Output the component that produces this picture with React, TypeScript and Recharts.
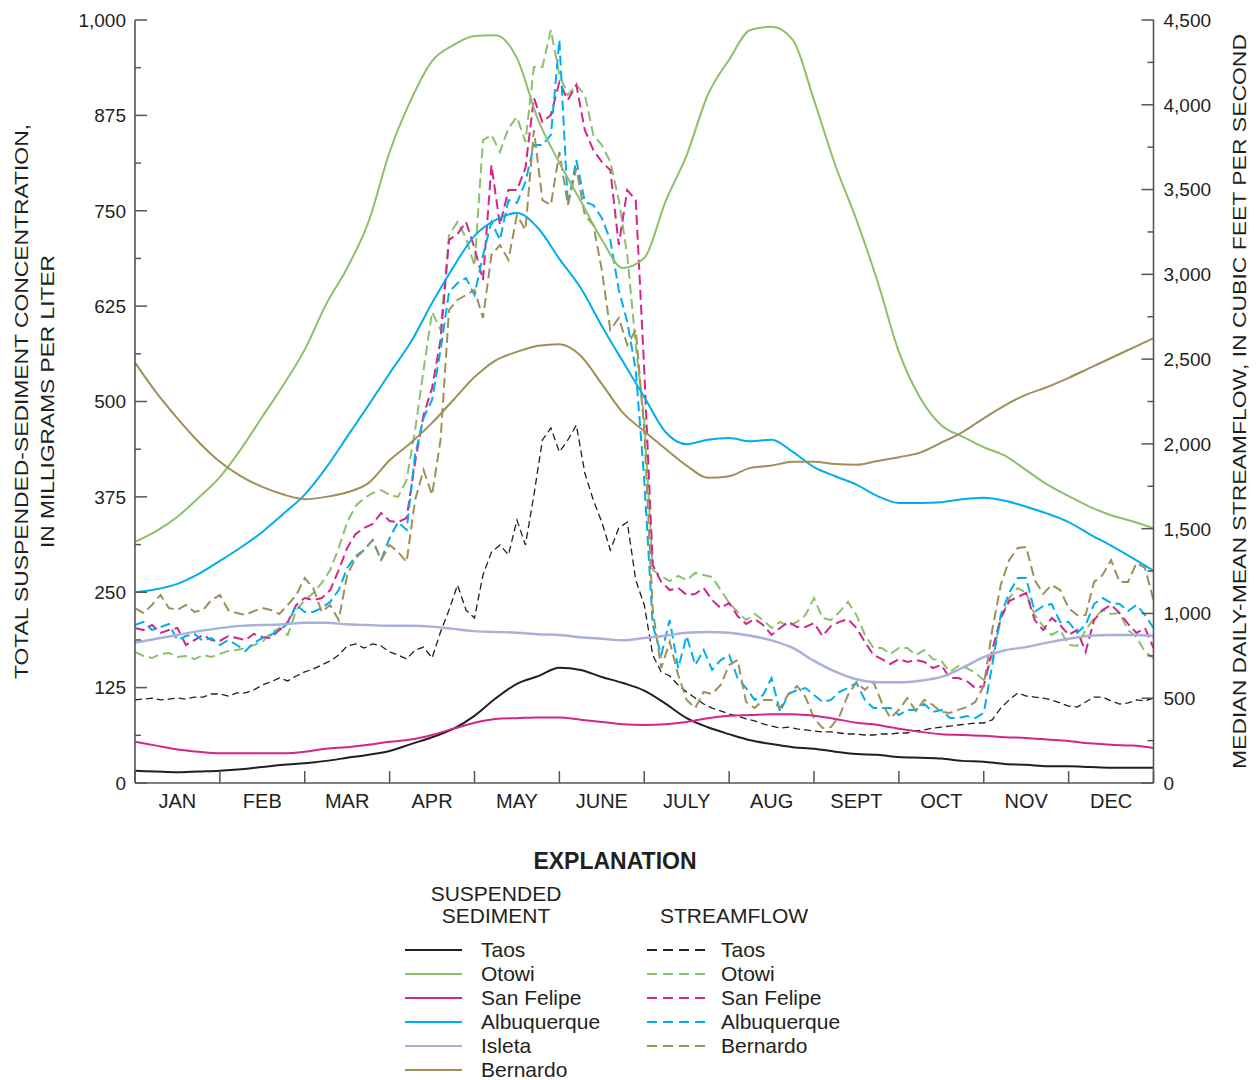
import { LineChart, Line, XAxis, YAxis } from "recharts";

// Median daily suspended sediment (mg/L) and median daily-mean streamflow (cfs),
// Rio Grande stations, by month of the year.

const MONTHS = ["JAN", "FEB", "MAR", "APR", "MAY", "JUNE", "JULY", "AUG", "SEPT", "OCT", "NOV", "DEC"];

// x is months since Jan 1; sediment curves every quarter month, flows every tenth
const SED_X = Array.from({ length: 49 }, (_, i) => i / 4);
const FLOW_X = Array.from({ length: 121 }, (_, i) => i / 10);

const SED_TAOS = [16, 15, 14, 15, 16, 18, 21, 24, 26, 29, 33, 37, 42, 51, 60, 71, 88, 111, 130, 140, 151, 148, 139, 131, 121, 104, 85, 73, 64, 56, 51, 47, 45, 41, 38, 37, 34, 33, 32, 29, 28, 25, 24, 22, 22, 21, 20, 20, 20];
const SED_OTOWI = [316, 330, 349, 374, 401, 438, 480, 522, 568, 627, 675, 735, 827, 895, 946, 967, 979, 980, 950, 869, 813, 763, 712, 675, 688, 762, 823, 902, 948, 987, 991, 974, 895, 810, 738, 657, 565, 505, 469, 454, 440, 429, 410, 391, 376, 362, 351, 343, 334];
const SED_SAN_FELIPE = [54, 49, 44, 41, 39, 39, 39, 39, 41, 45, 47, 50, 54, 57, 63, 71, 79, 84, 85, 86, 86, 83, 80, 77, 76, 77, 80, 85, 88, 89, 90, 90, 88, 84, 79, 76, 71, 67, 64, 63, 62, 60, 59, 57, 55, 52, 50, 49, 46];
const SED_ALBUQUERQUE = [250, 254, 261, 274, 291, 309, 329, 353, 378, 413, 454, 495, 537, 578, 629, 676, 717, 738, 747, 727, 687, 649, 599, 552, 506, 460, 444, 450, 452, 448, 450, 434, 414, 402, 391, 376, 367, 367, 368, 372, 374, 370, 362, 353, 342, 326, 311, 295, 278];
const SED_ISLETA = [184, 189, 194, 199, 203, 206, 207, 208, 210, 210, 208, 207, 206, 206, 205, 202, 199, 198, 197, 195, 194, 191, 189, 187, 190, 193, 197, 198, 197, 193, 187, 177, 160, 146, 136, 132, 132, 134, 139, 151, 165, 174, 178, 184, 189, 193, 194, 194, 193];
const SED_BERNARDO = [551, 512, 478, 447, 421, 402, 388, 378, 372, 375, 381, 393, 423, 446, 472, 502, 532, 554, 565, 573, 575, 560, 523, 485, 461, 438, 416, 400, 402, 413, 416, 421, 421, 418, 417, 422, 427, 433, 446, 460, 478, 495, 509, 519, 531, 544, 557, 570, 583];

const FLOW_TAOS = [
  490, 495, 501, 490, 495, 501, 495, 507, 507, 525,
  525, 513, 531, 531, 549, 578, 596, 619, 602, 631,
  655, 672, 696, 720, 755, 808, 820, 796, 820, 808,
  773, 755, 731, 784, 802, 737, 891, 1020, 1168, 1020,
  973, 1227, 1362, 1404, 1345, 1551, 1404, 1699, 2023, 2094,
  1952, 2023, 2111, 1828, 1669, 1539, 1374, 1504, 1539, 1197,
  1050, 755, 655, 631, 578, 537, 501, 466, 442, 425,
  407, 395, 378, 366, 348, 336, 324, 330, 319, 313,
  307, 301, 301, 295, 289, 289, 283, 283, 289, 289,
  295, 295, 307, 313, 324, 330, 336, 342, 348, 354,
  354, 372, 442, 490, 531, 513, 507, 501, 490, 472,
  454, 448, 478, 507, 507, 484, 466, 472, 490, 484, 501,
];
const FLOW_OTOWI = [
  773, 749, 737, 761, 767, 743, 749, 731, 755, 743,
  761, 779, 784, 796, 814, 832, 885, 914, 873, 1020,
  1079, 1121, 1180, 1256, 1386, 1539, 1634, 1681, 1710, 1728,
  1699, 1687, 1787, 2082, 2436, 2778, 2672, 3232, 3309, 3214,
  3049, 3792, 3822, 3722, 3863, 3928, 3781, 4223, 4223, 4441,
  4176, 4058, 4117, 4058, 3822, 3763, 3663, 3438, 3114, 2583,
  2141, 1256, 1221, 1191, 1221, 1197, 1239, 1227, 1215, 1138,
  1062, 1009, 961, 997, 961, 914, 950, 926, 950, 991,
  1091, 973, 961, 1009, 1068, 991, 873, 796, 796, 761,
  796, 796, 755, 784, 731, 720, 655, 690, 678, 649,
  608, 737, 961, 1091, 1150, 1121, 991, 926, 873, 902,
  814, 808, 902, 973, 1020, 997, 1003, 902, 861, 773, 737,
];
const FLOW_SAN_FELIPE = [
  914, 902, 932, 885, 902, 914, 814, 843, 873, 843,
  838, 867, 855, 843, 879, 861, 855, 902, 950, 1050,
  1091, 1079, 1091, 1138, 1256, 1386, 1469, 1504, 1528, 1592,
  1545, 1539, 1563, 1893, 2170, 2330, 2613, 3203, 3238, 3309,
  3155, 2967, 3645, 3291, 3497, 3497, 3627, 4040, 3899, 3940,
  4134, 4028, 4117, 3851, 3733, 3663, 3615, 3173, 3497, 3438,
  2436, 1286, 1186, 1138, 1150, 1109, 1115, 1150, 1079, 1032,
  1062, 985, 938, 967, 932, 873, 914, 950, 920, 920,
  944, 867, 926, 950, 967, 914, 832, 755, 731, 702,
  731, 714, 725, 714, 678, 696, 619, 619, 602, 560,
  572, 784, 973, 1073, 1097, 1121, 961, 902, 973, 932,
  873, 902, 773, 961, 1020, 1050, 1003, 938, 885, 914, 796,
];
const FLOW_ALBUQUERQUE = [
  932, 950, 902, 920, 938, 843, 867, 879, 838, 855,
  814, 843, 814, 779, 826, 855, 873, 902, 938, 1050,
  1009, 1009, 1032, 1068, 1138, 1268, 1339, 1374, 1433, 1315,
  1445, 1539, 1492, 1935, 2153, 2259, 2554, 2896, 2949, 2978,
  2878, 3114, 3309, 3203, 3438, 3421, 3545, 3763, 3763, 3822,
  4382, 3409, 3674, 3427, 3409, 3332, 3203, 2908, 2719, 2436,
  1787, 932, 755, 961, 678, 867, 696, 784, 667, 725,
  755, 619, 560, 490, 519, 619, 419, 525, 549, 560,
  519, 478, 490, 537, 560, 590, 490, 442, 442, 442,
  401, 431, 431, 466, 419, 431, 383, 383, 395, 383,
  413, 696, 991, 1121, 1209, 1209, 1009, 1044, 1056, 950,
  950, 885, 932, 1056, 1091, 1062, 1056, 1014, 1050, 991, 914,
];
const FLOW_BERNARDO = [
  1032, 1003, 1050, 1109, 1032, 1020, 1050, 1009, 1020, 1079,
  1109, 1020, 1003, 991, 1014, 1032, 1020, 997, 1050, 1109,
  1209, 1150, 1009, 1050, 961, 1227, 1327, 1374, 1433, 1315,
  1404, 1362, 1303, 1669, 1846, 1699, 2023, 2790, 2849, 2878,
  2908, 2743, 3114, 3173, 3085, 3350, 3262, 3851, 3438, 3409,
  3722, 3409, 3627, 3350, 3291, 3026, 2672, 2743, 2583, 2672,
  2082, 1020, 678, 832, 637, 490, 442, 537, 525, 578,
  696, 725, 478, 442, 490, 490, 442, 525, 572, 507,
  383, 324, 330, 395, 519, 596, 549, 596, 472, 383,
  431, 501, 425, 490, 460, 419, 413, 431, 448, 478,
  572, 902, 1168, 1315, 1386, 1392, 1197, 1115, 1168, 1138,
  1032, 991, 991, 1186, 1227, 1315, 1186, 1186, 1298, 1268, 1079,
];

const CONC_TICKS = Array.from({ length: 17 }, (_, i) => i * 62.5);
const FLOW_TICKS = Array.from({ length: 19 }, (_, i) => i * 250);
const MONTH_EDGES = Array.from({ length: 13 }, (_, i) => i);
const X_TICKS = Array.from({ length: 25 }, (_, i) => i / 2);

const COLORS = {
  taos: "#231f20",
  otowi: "#8cc06a",
  sanFelipe: "#d2268b",
  albuquerque: "#00aeef",
  isleta: "#a9b0db",
  bernardo: "#9f8f59",
};

const SEDIMENT = [
  { name: "Taos", color: COLORS.taos, values: SED_TAOS },
  { name: "Otowi", color: COLORS.otowi, values: SED_OTOWI },
  { name: "San Felipe", color: COLORS.sanFelipe, values: SED_SAN_FELIPE },
  { name: "Albuquerque", color: COLORS.albuquerque, values: SED_ALBUQUERQUE },
  { name: "Isleta", color: COLORS.isleta, values: SED_ISLETA },
  { name: "Bernardo", color: COLORS.bernardo, values: SED_BERNARDO },
];

const STREAMFLOW = [
  { name: "Taos", color: COLORS.taos, values: FLOW_TAOS },
  { name: "Otowi", color: COLORS.otowi, values: FLOW_OTOWI },
  { name: "San Felipe", color: COLORS.sanFelipe, values: FLOW_SAN_FELIPE },
  { name: "Albuquerque", color: COLORS.albuquerque, values: FLOW_ALBUQUERQUE },
  { name: "Bernardo", color: COLORS.bernardo, values: FLOW_BERNARDO },
];

const toRows = (xs: number[], vs: number[]) => xs.map((m, i) => ({ m, v: vs[i] }));

const FONT = '"Liberation Sans", Arial, Helvetica, sans-serif';
const INK = "#231f20";
const AXIS = "#555555";
const AXIS_LINE = { stroke: AXIS, strokeWidth: 1.6 };

const W = 1243;
const H = 820;
const MARGIN = { top: 12, right: 17.5, bottom: 15, left: 47 };
const Y_AXIS_W = 80;
const X_AXIS_H = 30;
const PLOT_LEFT = MARGIN.left + Y_AXIS_W;
const PLOT_RIGHT = W - MARGIN.right - Y_AXIS_W;
const PLOT_MID = (MARGIN.top + H - MARGIN.bottom - X_AXIS_H) / 2;

const fmt = (v: number) => v.toLocaleString("en-US");

function LeftTick({ x, y, payload }: any) {
  const major = payload.value % 125 === 0;
  return (
    <g>
      <line x1={x} x2={x + (major ? 12 : 6)} y1={y} y2={y} stroke={AXIS} strokeWidth={1.5} />
      {major && (
        <text x={x - 9} y={y} dy="0.36em" textAnchor="end" fontSize={19} fill={INK}>
          {fmt(payload.value)}
        </text>
      )}
    </g>
  );
}

function RightTick({ x, y, payload }: any) {
  const major = payload.value % 500 === 0;
  return (
    <g>
      <line x1={x} x2={x - (major ? 12 : 6)} y1={y} y2={y} stroke={AXIS} strokeWidth={1.5} />
      {major && (
        <text x={x + 10} y={y} dy="0.36em" textAnchor="start" fontSize={19} fill={INK}>
          {fmt(payload.value)}
        </text>
      )}
    </g>
  );
}

function BottomTick({ x, y, payload }: any) {
  const v = payload.value;
  if (Number.isInteger(v)) {
    return <line x1={x} x2={x} y1={y} y2={y - 12} stroke={AXIS} strokeWidth={1.5} />;
  }
  return (
    <text x={x} y={y + 25} textAnchor="middle" fontSize={20} fill={INK}>
      {MONTHS[Math.floor(v)]}
    </text>
  );
}

function TopTick({ x, y }: any) {
  return <line x1={x} x2={x} y1={y} y2={y + 11} stroke={AXIS} strokeWidth={1.5} />;
}

function LeftTitle() {
  const x1 = PLOT_LEFT - 113;
  const x2 = PLOT_LEFT - 87;
  return (
    <g fontSize={18} fill={INK}>
      <text x={x1} y={PLOT_MID} transform={`rotate(-90 ${x1} ${PLOT_MID})`} textAnchor="middle"
        dominantBaseline="central" textLength={555} lengthAdjust="spacingAndGlyphs">
        TOTAL SUSPENDED-SEDIMENT CONCENTRATION,
      </text>
      <text x={x2} y={PLOT_MID} transform={`rotate(-90 ${x2} ${PLOT_MID})`} textAnchor="middle"
        dominantBaseline="central" textLength={293} lengthAdjust="spacingAndGlyphs">
        IN MILLIGRAMS PER LITER
      </text>
    </g>
  );
}

function RightTitle() {
  const x = PLOT_RIGHT + 86.5;
  return (
    <text x={x} y={PLOT_MID} transform={`rotate(-90 ${x} ${PLOT_MID})`} textAnchor="middle"
      dominantBaseline="central" fontSize={18} fill={INK} textLength={735} lengthAdjust="spacingAndGlyphs">
      MEDIAN DAILY-MEAN STREAMFLOW, IN CUBIC FEET PER SECOND
    </text>
  );
}

function Explanation() {
  const rowY = (i: number) => 942 + i * 24;
  return (
    <svg width={W} height={1072} style={{ position: "absolute", left: 0, top: 0, pointerEvents: "none" }}
      fontFamily={FONT} fill={INK}>
      <text x={607} y={861} textAnchor="middle" fontSize={23} fontWeight="bold">EXPLANATION</text>
      <text x={488} y={893} textAnchor="middle" fontSize={21}>SUSPENDED</text>
      <text x={488} y={915} textAnchor="middle" fontSize={21}>SEDIMENT</text>
      <text x={726} y={915} textAnchor="middle" fontSize={21}>STREAMFLOW</text>
      {SEDIMENT.map((s, i) => (
        <g key={"sl" + s.name}>
          <line x1={397} x2={454} y1={rowY(i)} y2={rowY(i)} stroke={s.color} strokeWidth={2} />
          <text x={473} y={rowY(i) + 7} fontSize={21}>{s.name}</text>
        </g>
      ))}
      {STREAMFLOW.map((s, i) => (
        <g key={"fl" + s.name}>
          <line x1={639} x2={697} y1={rowY(i)} y2={rowY(i)} stroke={s.color} strokeWidth={2} strokeDasharray="10 6" />
          <text x={713} y={rowY(i) + 7} fontSize={21}>{s.name}</text>
        </g>
      ))}
    </svg>
  );
}

export default function App() {
  return (
    <div style={{ position: "relative", width: W, height: 1072, fontFamily: FONT }}>
      <LineChart width={W} height={H} margin={MARGIN} style={{ fontFamily: FONT }}>
        <XAxis xAxisId="month" dataKey="m" type="number" domain={[0, 12]} ticks={X_TICKS} interval={0}
          height={X_AXIS_H} tickSize={0} tickMargin={0} tickLine={false} axisLine={AXIS_LINE}
          tick={(p: any) => <BottomTick {...p} />} />
        <XAxis xAxisId="edge" orientation="top" dataKey="m" type="number" domain={[0, 12]} ticks={MONTH_EDGES}
          interval={0} height={0} tickSize={0} tickMargin={0} tickLine={false} axisLine={AXIS_LINE}
          tick={(p: any) => <TopTick {...p} />} />
        <YAxis yAxisId="conc" domain={[0, 1000]} ticks={CONC_TICKS} interval={0} width={Y_AXIS_W}
          tickSize={0} tickMargin={0} tickLine={false} axisLine={AXIS_LINE}
          tick={(p: any) => <LeftTick {...p} />} label={() => <LeftTitle />} />
        <YAxis yAxisId="flow" orientation="right" domain={[0, 4500]} ticks={FLOW_TICKS} interval={0}
          width={Y_AXIS_W} tickSize={0} tickMargin={0} tickLine={false} axisLine={AXIS_LINE}
          tick={(p: any) => <RightTick {...p} />} label={() => <RightTitle />} />

        {STREAMFLOW.map((s) => (
          <Line key={"flow-" + s.name} data={toRows(FLOW_X, s.values)} dataKey="v" xAxisId="month" yAxisId="flow"
            type="linear" stroke={s.color} strokeWidth={s.name === "Taos" ? 1.3 : 2}
            strokeDasharray={s.name === "Taos" ? "7 4" : "10 5"} dot={false} activeDot={false}
            isAnimationActive={false} />
        ))}
        {SEDIMENT.map((s) => (
          <Line key={"sed-" + s.name} data={toRows(SED_X, s.values)} dataKey="v" xAxisId="month" yAxisId="conc"
            type="monotone" stroke={s.color} strokeWidth={s.name === "Isleta" ? 2.4 : 2} dot={false}
            activeDot={false} isAnimationActive={false} />
        ))}
      </LineChart>
      <Explanation />
    </div>
  );
}
